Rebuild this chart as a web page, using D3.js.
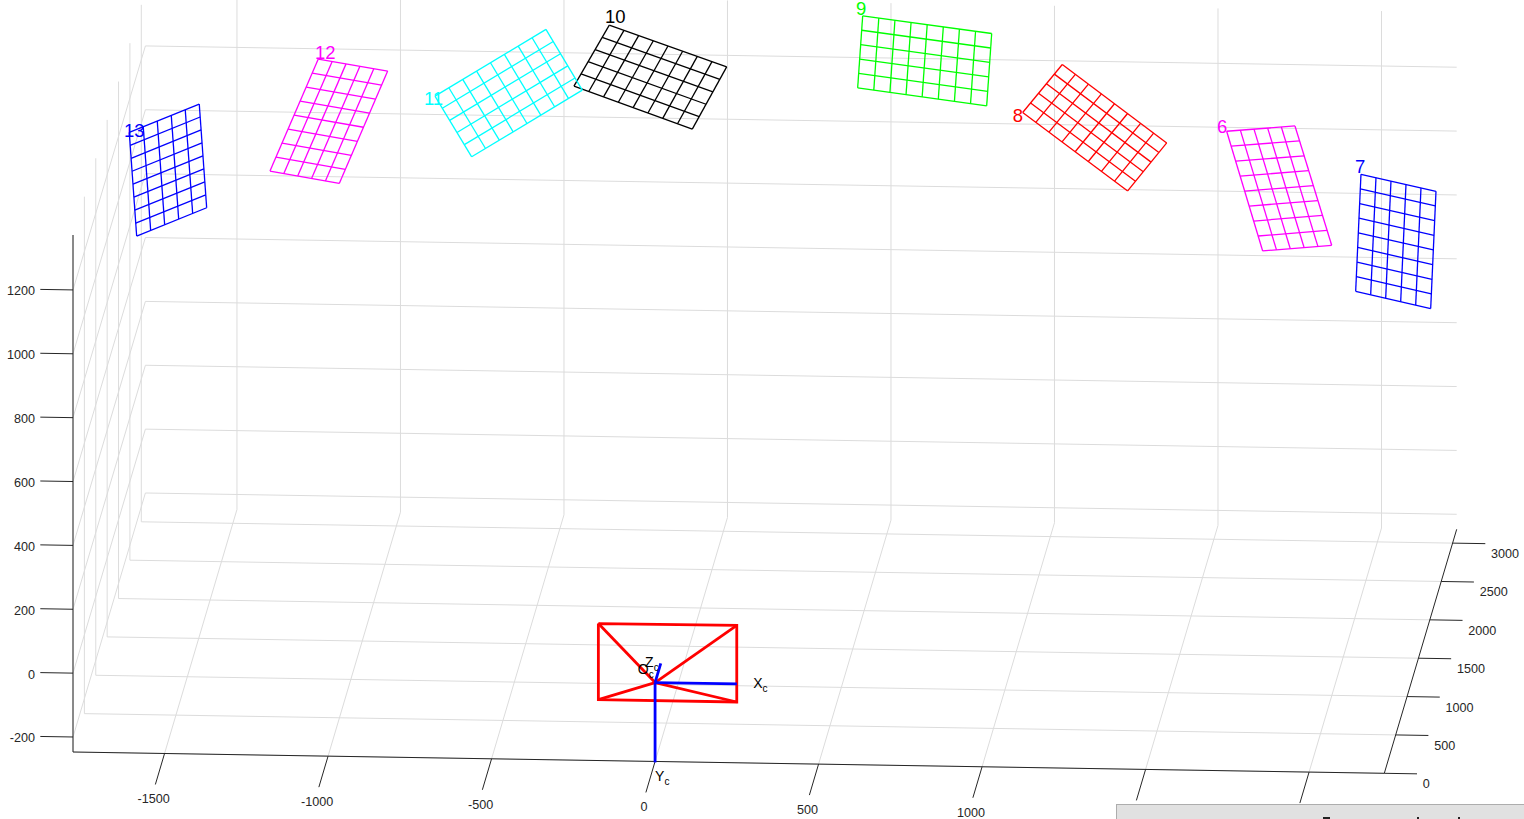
<!DOCTYPE html>
<html>
<head>
<meta charset="utf-8">
<script src="https://d3js.org/d3.v7.min.js"></script>
<style>
  html, body { margin: 0; background: #fff; overflow: hidden; }
  svg { display: block; font-family: "Liberation Sans", Arial, sans-serif; }
</style>
</head>
<body>
<div id="graph"></div>
<script>
// axis limits and ticks (world units, camera-centred)
const xLim = [-1780, 2230];
const yLim = [0, 3180];
const zLim = [-247, 1372];
const xTicks = [-1500, -1000, -500, 0, 500, 1000, 1500, 2000];
const xTickLabels = [-1500, -1000, -500, 0, 500, 1000]; // the last two sit under the panel
const yTicks = [0, 500, 1000, 1500, 2000, 2500, 3000];
const zTicks = [-200, 0, 200, 400, 600, 800, 1000, 1200];

// checkerboards: id, colour, [x, z] of the four corners, all at depth boardDepth
const boardDepth = 3000;
const boardIds = ["6", "7", "8", "9", "10", "11", "12", "13"];
const boardColors = ["#ff00ff", "#0000ff", "#ff0000", "#00ff00", "#000000", "#00ffff", "#ff00ff", "#0000ff"];
const boardCorners = [
  [[1539.1, 1031.3], [1748, 1051.3], [1860.2, 679.5], [1649.2, 658.2]],
  [[1949.8, 903.4], [2179.2, 853.9], [2163, 486.3], [1933.6, 536.6]],
  [[915.3, 1079.6], [1036.4, 1231.9], [1355.7, 991.6], [1236.4, 839.3]],
  [[426, 1374.1], [820.5, 1325.4], [805.2, 1098.4], [410.7, 1148.3]],
  [[-348.9, 1332.2], [10.1, 1207.5], [-95.1, 1010.6], [-456.9, 1139.4]],
  [[-881.9, 1101.1], [-542.5, 1315.5], [-431.5, 1127.3], [-769.7, 912.8]],
  [[-1238.8, 1211.1], [-1026.6, 1177], [-1174.6, 822.8], [-1386.5, 857.9]],
  [[-1816.8, 972], [-1602.8, 1064.2], [-1580.1, 739.8], [-1794.2, 647.6]]
];
const boardCols = [5, 5, 5, 8, 8, 8, 5, 5];
const boardRows = [8, 8, 8, 5, 5, 5, 8, 8];
const boardLabelPos = [
  [1509.5, 1046.4], [1931.5, 925.9], [884.7, 1070.6], [405.5, 1397],
  [-362, 1358], [-915.6, 1094.2], [-1249, 1232.9], [-1833, 979]
];

// camera: frustum rectangle at depth 250, axes of length 250
const frustumCorners = [[-190.8, 250, 121.6], [232.4, 250, 123.2], [232.4, 250, -117], [-190.8, 250, -116.4]];
const cameraOrigin = [0, 0, 0];
const cameraAxes = [[250, 0, 0], [0, 0, -250], [0, 250, 0]];
const cameraLabels = [
  { main: "X", pos: [300, 0, 4] },
  { main: "Y", pos: [0, 0, -293] },
  { main: "Z", pos: [-48, 250, 4] },
  { main: "O", pos: [-53, 0, 41] }
];

const width = 1524;
const height = 819;

// oblique view: each world axis has its own screen contribution
const xToPx = d3.scaleLinear().domain(xLim).range([73, 1384.3]);
const xToPy = d3.scaleLinear().domain(xLim).range([0, 21.3]);
const yToPx = d3.scaleLinear().domain(yLim).range([0, 72.4]);
const yToPy = d3.scaleLinear().domain(yLim).range([0, -244]);
const zToPy = d3.scaleLinear().domain(zLim).range([752, 235]);

function project(p) {
  return [xToPx(p[0]) + yToPx(p[1]), zToPy(p[2]) + xToPy(p[0]) + yToPy(p[1])];
}

const line3d = d3.line().x(d => project(d)[0]).y(d => project(d)[1]);

const svg = d3.select("#graph").append("svg")
  .attr("width", width)
  .attr("height", height)
  .attr("viewBox", `0 0 ${width} ${height}`);

// grid on the three walls
const gridSegs = [];
xTicks.forEach(x => {
  gridSegs.push([[x, yLim[0], zLim[0]], [x, yLim[1], zLim[0]], [x, yLim[1], zLim[1]]]);
});
yTicks.forEach(y => {
  gridSegs.push([[xLim[1], y, zLim[0]], [xLim[0], y, zLim[0]], [xLim[0], y, zLim[1]]]);
});
zTicks.forEach(z => {
  gridSegs.push([[xLim[0], yLim[0], z], [xLim[0], yLim[1], z], [xLim[1], yLim[1], z]]);
});

svg.append("g")
  .attr("fill", "none")
  .attr("stroke", "#dcdcdc")
  .attr("stroke-width", 1)
  .selectAll("path")
  .data(gridSegs)
  .join("path")
  .attr("d", line3d);

// axes
const axisColor = "#262626";
const axisSegs = [
  [[xLim[0], 0, zLim[0]], [xLim[1], 0, zLim[0]]],
  [[xLim[1], yLim[0], zLim[0]], [xLim[1], yLim[1], zLim[0]]],
  [[xLim[0], 0, zLim[0]], [xLim[0], 0, zLim[1]]]
];
xTicks.forEach(x => axisSegs.push([[x, 0, zLim[0]], [x, -404, zLim[0]]]));
yTicks.forEach(y => axisSegs.push([[xLim[1], y, zLim[0]], [xLim[1] + 100, y, zLim[0]]]));
zTicks.forEach(z => axisSegs.push([[xLim[0], 0, z], [xLim[0] - 100, 0, z]]));

svg.append("g")
  .attr("fill", "none")
  .attr("stroke", axisColor)
  .attr("stroke-width", 1)
  .selectAll("path")
  .data(axisSegs)
  .join("path")
  .attr("d", line3d);

// tick labels
const tickLabels = svg.append("g")
  .attr("fill", axisColor)
  .style("font-size", "12.6px");

tickLabels.selectAll(".xl")
  .data(xTickLabels)
  .join("text")
  .attr("text-anchor", "middle")
  .attr("x", d => project([d, 0, zLim[0]])[0] - 11)
  .attr("y", d => project([d, 0, zLim[0]])[1] + 50)
  .text(d => d);

tickLabels.selectAll(".yl")
  .data(yTicks)
  .join("text")
  .attr("x", d => project([xLim[1], d, zLim[0]])[0] + 38.5)
  .attr("y", d => project([xLim[1], d, zLim[0]])[1] + 15)
  .text(d => d);

tickLabels.selectAll(".zl")
  .data(zTicks)
  .join("text")
  .attr("text-anchor", "end")
  .attr("x", d => project([xLim[0], 0, d])[0] - 38)
  .attr("y", d => project([xLim[0], 0, d])[1] + 5.5)
  .text(d => d);

// camera frustum and axes
const frustumSegs = [frustumCorners.concat([frustumCorners[0]])];
frustumCorners.forEach(c => frustumSegs.push([cameraOrigin, c]));

svg.append("g")
  .attr("fill", "none")
  .attr("stroke", "#ff0000")
  .attr("stroke-width", 2.8)
  .selectAll("path")
  .data(frustumSegs)
  .join("path")
  .attr("d", line3d);

svg.append("g")
  .attr("fill", "none")
  .attr("stroke", "#0000ff")
  .attr("stroke-width", 2.8)
  .selectAll("path")
  .data(cameraAxes)
  .join("path")
  .attr("d", d => line3d([cameraOrigin, d]));

const camText = svg.append("g")
  .attr("fill", "#000")
  .style("font-size", "14px")
  .selectAll("text")
  .data(cameraLabels)
  .join("text")
  .attr("x", d => project(d.pos)[0])
  .attr("y", d => project(d.pos)[1])
  .attr("dy", "0.35em");
camText.append("tspan").text(d => d.main);
camText.append("tspan").attr("dy", 4).style("font-size", "10px").text("c");

// checkerboards
function boardLines(corners, cols, rows) {
  const c = corners.map(p => [p[0], boardDepth, p[1]]);
  const lines = [];
  d3.range(cols + 1).forEach(i => {
    const t = i / cols;
    lines.push([d3.interpolateArray(c[0], c[1])(t), d3.interpolateArray(c[3], c[2])(t)]);
  });
  d3.range(rows + 1).forEach(j => {
    const t = j / rows;
    lines.push([d3.interpolateArray(c[0], c[3])(t), d3.interpolateArray(c[1], c[2])(t)]);
  });
  return lines;
}

boardIds.forEach((id, i) => {
  const g = svg.append("g");
  g.selectAll("path")
    .data(boardLines(boardCorners[i], boardCols[i], boardRows[i]))
    .join("path")
    .attr("fill", "none")
    .attr("stroke", boardColors[i])
    .attr("stroke-width", 1.3)
    .attr("d", line3d);
  const pos = project([boardLabelPos[i][0], boardDepth, boardLabelPos[i][1]]);
  g.append("text")
    .attr("x", pos[0])
    .attr("y", pos[1])
    .attr("dy", "0.35em")
    .attr("fill", boardColors[i])
    .style("font-size", "18.5px")
    .text(id);
});

// window panel cut off at the bottom right, only the tops of its text show
svg.append("rect")
  .attr("x", 1116.5)
  .attr("y", 804.5)
  .attr("width", 420)
  .attr("height", 30)
  .attr("fill", "#e1e1e1")
  .attr("stroke", "#adadad");

svg.append("g")
  .attr("fill", "#222")
  .selectAll("rect")
  .data([[1323, 7], [1417, 2], [1458, 2]])
  .join("rect")
  .attr("x", d => d[0])
  .attr("y", 817)
  .attr("width", d => d[1])
  .attr("height", 2);
</script>
</body>
</html>
